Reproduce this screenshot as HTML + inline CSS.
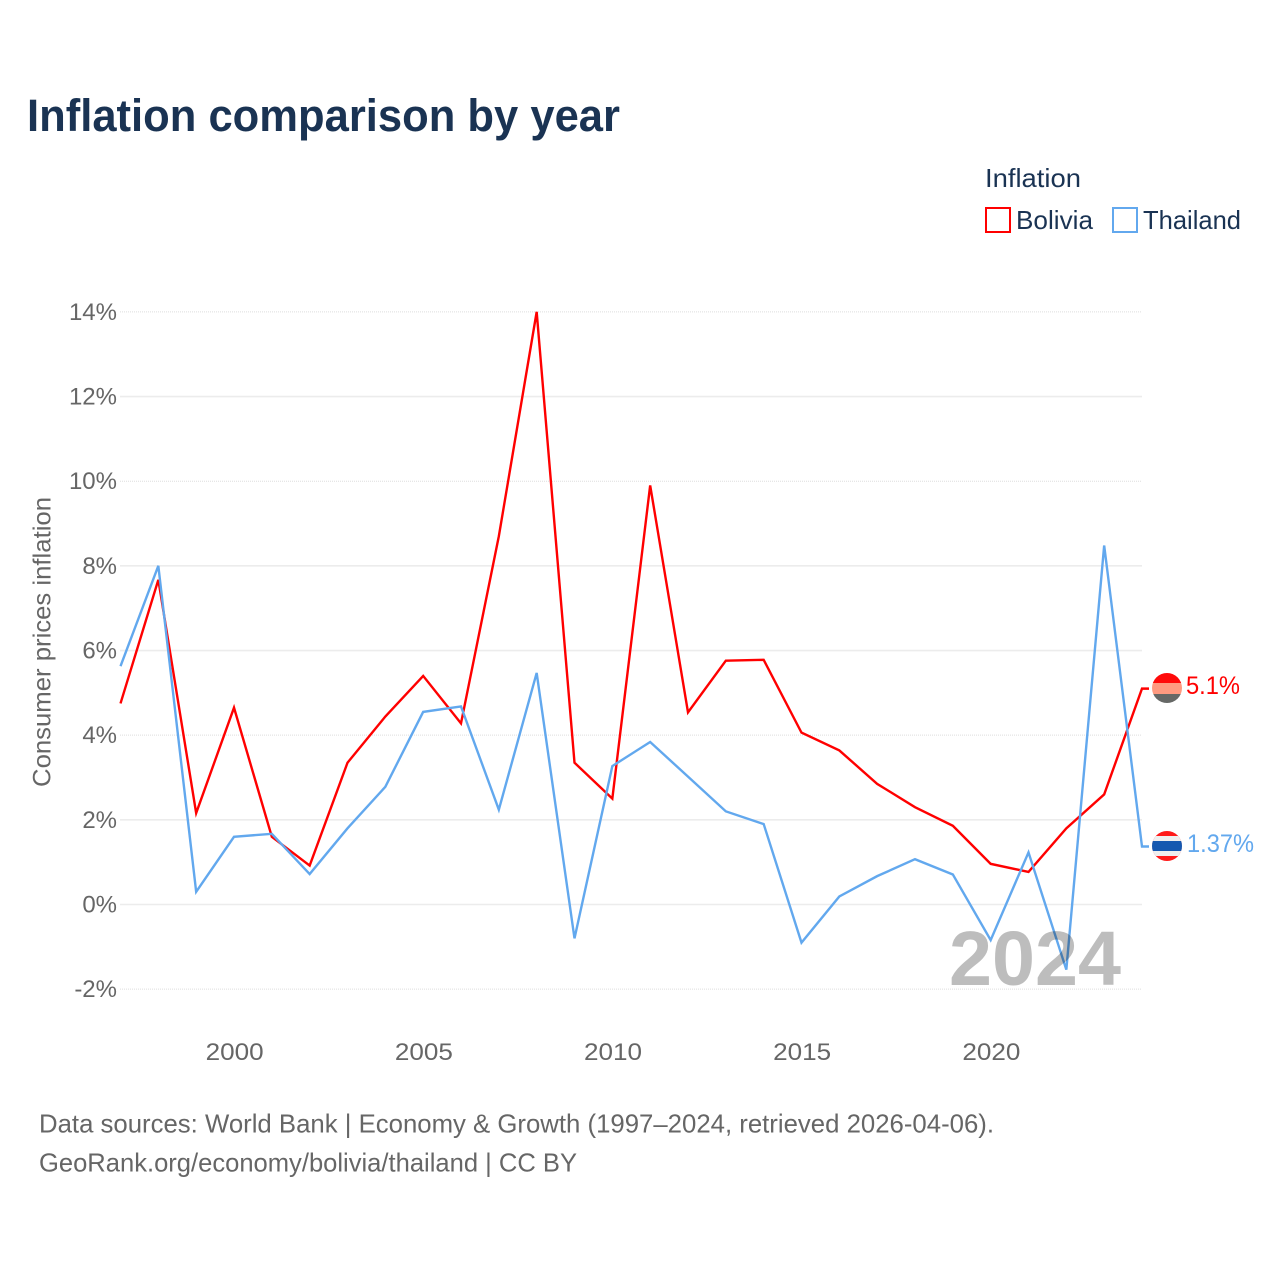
<!DOCTYPE html>
<html>
<head>
<meta charset="utf-8">
<style>
html,body{margin:0;padding:0;background:#fff;}
svg{display:block;}
text{font-family:"Liberation Sans",sans-serif;}
.tick{font-size:24px;fill:#666;}
.ink{fill:#1a3353;}
</style>
</head>
<body>
<svg id="chart" xmlns="http://www.w3.org/2000/svg" width="1280" height="1280" viewBox="0 0 1280 1280">
  <rect x="0" y="0" width="1280" height="1280" fill="#fff"/>
  <text x="27" y="131" font-size="45" font-weight="700" class="ink" textLength="593" lengthAdjust="spacingAndGlyphs">Inflation comparison by year</text>
  <g>
    <text x="985" y="187" font-size="26" class="ink" textLength="96" lengthAdjust="spacingAndGlyphs">Inflation</text>
    <rect x="986" y="208" width="24" height="24" fill="none" stroke="#ff0000" stroke-width="2"/>
    <text x="1016" y="229" font-size="26" class="ink" textLength="77" lengthAdjust="spacingAndGlyphs">Bolivia</text>
    <rect x="1113" y="208" width="24" height="24" fill="none" stroke="#62a8ee" stroke-width="2"/>
    <text x="1143" y="229" font-size="26" class="ink" textLength="98" lengthAdjust="spacingAndGlyphs">Thailand</text>
  </g>
  <text transform="translate(50.5,642) rotate(-90)" text-anchor="middle" font-size="25" fill="#666" textLength="290" lengthAdjust="spacingAndGlyphs">Consumer prices inflation</text>
  <g id="grid"></g>
  <g id="yticks"></g>
  <g id="xticks"></g>
  <g id="series"></g>
  <text x="949" y="985" font-size="77" font-weight="700" fill="#bdbdbd" textLength="172" lengthAdjust="spacingAndGlyphs" style="mix-blend-mode:multiply">2024</text>
  <defs>
    <clipPath id="clip-bolivia"><circle cx="1167" cy="688" r="15"/></clipPath>
    <clipPath id="clip-thailand"><circle cx="1167" cy="846" r="15"/></clipPath>
  </defs>
  <g clip-path="url(#clip-bolivia)">
    <rect x="1152" y="673" width="30" height="10" fill="#ff0a0a"/>
    <rect x="1152" y="683" width="30" height="11" fill="#ff9a80"/>
    <rect x="1152" y="694" width="30" height="10" fill="#666866"/>
  </g>
  <g clip-path="url(#clip-thailand)">
    <rect x="1152" y="831" width="30" height="30" fill="#ff1a1a"/>
    <rect x="1152" y="836" width="30" height="20" fill="#efefef"/>
    <rect x="1152" y="841" width="30" height="10" fill="#1558b0"/>
  </g>
  <text x="1186" y="694" font-size="25" fill="#ff0000" textLength="54" lengthAdjust="spacingAndGlyphs">5.1%</text>
  <text x="1187" y="852" font-size="25" fill="#62a8ee" textLength="67" lengthAdjust="spacingAndGlyphs">1.37%</text>
  <text x="39" y="1132.5" font-size="26" fill="#666" textLength="955" lengthAdjust="spacingAndGlyphs">Data sources: World Bank | Economy &amp; Growth (1997–2024, retrieved 2026-04-06).</text>
  <text x="39" y="1171.5" font-size="26" fill="#666" textLength="538" lengthAdjust="spacingAndGlyphs">GeoRank.org/economy/bolivia/thailand | CC BY</text>
</svg>
<script>
const years = [1997,1998,1999,2000,2001,2002,2003,2004,2005,2006,2007,2008,2009,2010,2011,2012,2013,2014,2015,2016,2017,2018,2019,2020,2021,2022,2023,2024];
const bolivia = [4.75,7.67,2.16,4.65,1.6,0.92,3.35,4.44,5.4,4.28,8.7,14.0,3.35,2.5,9.9,4.54,5.76,5.78,4.06,3.64,2.85,2.3,1.86,0.96,0.77,1.8,2.6,5.1];
const thailand = [5.63,8.0,0.3,1.6,1.67,0.72,1.8,2.78,4.55,4.68,2.24,5.47,-0.8,3.27,3.84,3.02,2.2,1.9,-0.9,0.19,0.67,1.07,0.71,-0.84,1.23,-1.54,8.48,1.37];
const yTicks = [-2,0,2,4,6,8,10,12,14];
const xTicks = [2000,2005,2010,2015,2020];

const NS = 'http://www.w3.org/2000/svg';
function xScale(year){ return 120.5 + (year - 1997) * (1142 - 120.5) / 27; }
function yScale(v){ return 904.5 - v * 42.33; }
function make(tag, attrs, parent){
  const el = document.createElementNS(NS, tag);
  Object.keys(attrs).forEach(function(k){ el.setAttribute(k, attrs[k]); });
  parent.appendChild(el);
  return el;
}
const grid = document.getElementById('grid');
const yG = document.getElementById('yticks');
const xG = document.getElementById('xticks');
const seriesG = document.getElementById('series');

yTicks.forEach(function(t){
  const faint = (t === 14 || t === 10 || t === 4 || t === -2);
  const attrs = faint
    ? {x1:120, x2:1142, y1:yScale(t), y2:yScale(t), stroke:'#dedede', 'stroke-width':1, 'stroke-dasharray':'1 1'}
    : {x1:120, x2:1142, y1:yScale(t), y2:yScale(t), stroke:'#ececec', 'stroke-width':1.6};
  const line = make('line', attrs, grid);
  
  
  const label = make('text', {x:117, y:yScale(t) + 8, 'text-anchor':'end', class:'tick'}, yG);
  
  
  label.textContent = t + '%';
});
xTicks.forEach(function(t){
  const label = make('text', {x:xScale(t) + 0.7, y:1060, 'text-anchor':'middle', class:'tick', textLength:58, lengthAdjust:'spacingAndGlyphs'}, xG);
  
  
  label.textContent = String(t);
});
function drawSeries(values, color){
  const pts = values.map(function(v, i){ return xScale(years[i]).toFixed(2) + ',' + yScale(v).toFixed(2); });
  const last = values[values.length - 1];
  pts.push('1149,' + yScale(last).toFixed(2));
  return make('polyline', {points:pts.join(' '), fill:'none', stroke:color, 'stroke-width':2.4, 'stroke-linejoin':'miter'}, seriesG);
}
const boliviaLine = drawSeries(bolivia, '#ff0000');


const thailandLine = drawSeries(thailand, '#62a8ee');


</script>
</body>
</html>
